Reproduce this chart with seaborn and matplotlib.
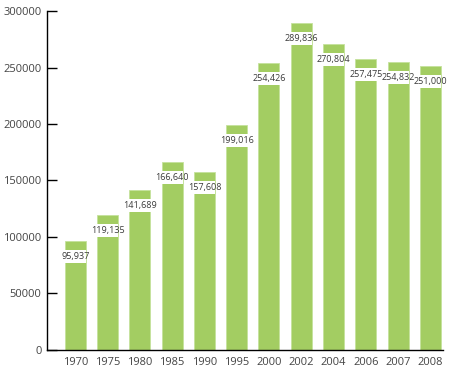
import matplotlib
matplotlib.use("Agg")
import matplotlib.pyplot as plt
import seaborn as sns
import pandas as pd

# data
years = ["1970", "1975", "1980", "1985", "1990", "1995",
         "2000", "2002", "2004", "2006", "2007", "2008"]
values = [95937, 119135, 141689, 166640, 157608, 199016,
          254426, 289836, 270804, 257475, 254832, 251000]
value_labels = ["95,937", "119,135", "141,689", "166,640", "157,608", "199,016",
                "254,426", "289,836", "270,804", "257,475", "254,832", "251,000"]

df = pd.DataFrame({"year": years, "value": values})

sns.set_style("white")
plt.rcParams["font.family"] = ["Open Sans", "DejaVu Sans"]

fig, ax = plt.subplots(figsize=(4.5, 3.7), dpi=100)
fig.subplots_adjust(left=0.105, right=0.985, bottom=0.055, top=0.97)

bar_w = 0.65
sns.barplot(data=df, x="year", y="value", color="#a3cd62", saturation=1,
            width=bar_w, edgecolor="#c5e29c", linewidth=0.6, ax=ax)

# white label band cutting through the top of each bar
strip = 8000
band = 11500
for i, (v, lab) in enumerate(zip(values, value_labels)):
    ax.bar(i, band, bottom=v - strip - band, width=bar_w + 0.02,
           color="white", linewidth=0, zorder=3)
    ax.text(i, v - strip - band / 2, lab, ha="center", va="center",
            fontsize=6.5, color="#3a3a3a", zorder=4)

ax.set_ylim(0, 300000)
ax.set_xlim(-0.87, 11.4)
ax.set_yticks(range(0, 300001, 50000))
ax.set_xlabel("")
ax.set_ylabel("")

for side in ["top", "right"]:
    ax.spines[side].set_visible(False)
for side in ["left", "bottom"]:
    ax.spines[side].set_color("black")
    ax.spines[side].set_linewidth(1)
    ax.spines[side].set_zorder(5)

ax.tick_params(axis="y", direction="in", left=True, length=7, width=1,
               color="black", labelsize=8, labelcolor="#444444", pad=4)
ax.tick_params(axis="x", bottom=False, labelsize=8, labelcolor="#444444", pad=2)

fig.savefig("out.png", dpi=100)
